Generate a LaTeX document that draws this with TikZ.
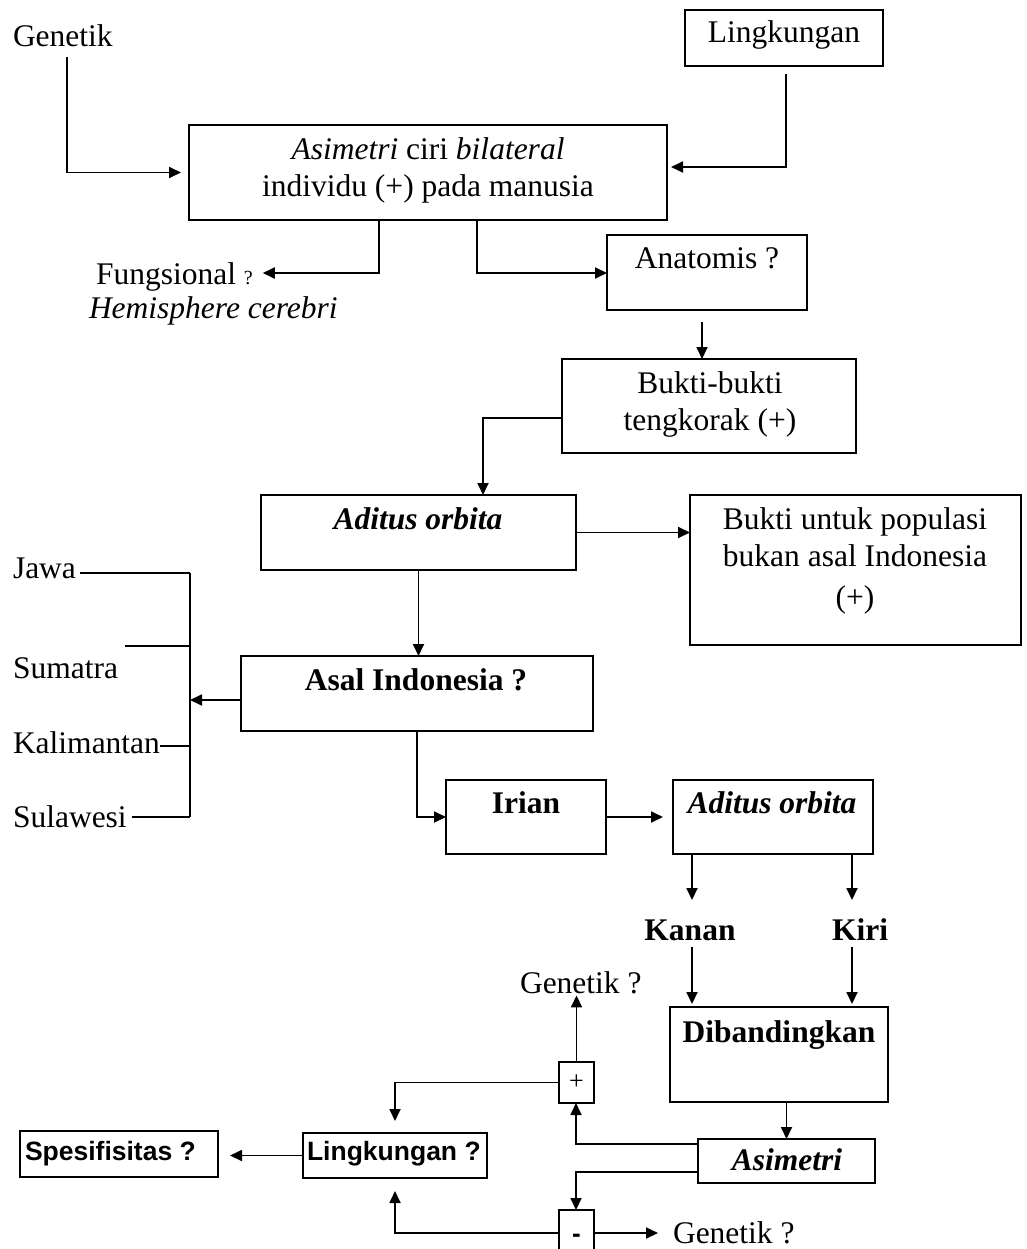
\documentclass[tikz,border=0pt]{standalone}
\usepackage{fontspec}
\setmainfont{Liberation Serif}
\newfontfamily\sansfont{Liberation Sans}
\usetikzlibrary{arrows.meta,calc}
\begin{document}
\begin{tikzpicture}[x=1pt,y=-1pt,
  every node/.style={font=\fontsize{31.5}{36}\selectfont, inner sep=0pt, outer sep=0pt},
  box/.style={draw, line width=1.7pt, anchor=north west},
  lbl/.style={anchor=base},
  lblw/.style={anchor=base west},
  ln/.style={line width=1.8pt},
  arr/.style={ln, -{Triangle[length=12pt,width=11pt]}},
  sansb/.style={font=\sansfont\bfseries\fontsize{26.5}{30}\selectfont},
]
\useasboundingbox (0,0) rectangle (1027,1249);
\clip (0,0) rectangle (1027,1249);

% boxes
\node[box, minimum width=478pt, minimum height=95pt] (main) at (189,125) {};
\node[box, minimum width=198pt, minimum height=56pt] (ling) at (685,10) {};
\node[box, minimum width=200pt, minimum height=75pt] (anat) at (607,235) {};
\node[box, minimum width=294pt, minimum height=94pt] (bukti) at (562,359) {};
\node[box, minimum width=315pt, minimum height=75pt] (adit) at (261,495) {};
\node[box, minimum width=331pt, minimum height=150pt] (bu) at (690,495) {};
\node[box, minimum width=352pt, minimum height=75pt] (asal) at (241,656) {};
\node[box, minimum width=160pt, minimum height=74pt] (irian) at (446,780) {};
\node[box, minimum width=200pt, minimum height=74pt] (adit2) at (673,780) {};
\node[box, minimum width=218pt, minimum height=95pt] (dib) at (670,1007) {};
\node[box, minimum width=177pt, minimum height=44pt] (asim) at (698,1139) {};
\node[box, minimum width=35pt, minimum height=41pt] (plus) at (559,1062) {};
\node[box, minimum width=35pt, minimum height=46pt] (minus) at (559,1210) {};
\node[box, minimum width=184pt, minimum height=45pt] (lingq) at (303,1133) {};
\node[box, minimum width=198pt, minimum height=46pt] (spes) at (20,1131) {};

% texts
\node[lblw] (tgen) at (13,47) {Genetik};
\node[lbl] (tling) at (784,43) {Lingkungan};
\node[lbl] (tm1) at (428,160) {\textit{Asimetri} ciri \textit{bilateral}};
\node[lbl] (tm2) at (428,197) {individu (+) pada manusia};
\node[lblw] (tfung) at (96,284) {Fungsional {\fontsize{20}{24}\selectfont ?}};
\node[lblw] (themi) at (89,318) {\textit{Hemisphere cerebri}};
\node[lbl] (tanat) at (707,268) {Anatomis ?};
\node[lbl] (tb1) at (710,393) {Bukti-bukti};
\node[lbl] (tb2) at (710,430) {tengkorak (+)};
\node[lbl] (tad) at (418,529) {\textbf{\textit{Aditus orbita}}};
\node[lbl] (tbu1) at (855,529) {Bukti untuk populasi};
\node[lbl] (tbu2) at (855,566) {bukan asal Indonesia};
\node[lbl] (tbu3) at (855,607) {(+)};
\node[lbl] (tasal) at (416,690) {\textbf{Asal Indonesia ?}};
\node[lblw] (tjawa) at (13,578) {Jawa};
\node[lblw] (tsum) at (13,678) {Sumatra};
\node[lblw] (tkal) at (13,753) {Kalimantan};
\node[lblw] (tsul) at (13,827) {Sulawesi};
\node[lbl] (tirian) at (526,813) {\textbf{Irian}};
\node[lbl] (tad2) at (772,813) {\textbf{\textit{Aditus orbita}}};
\node[lbl] (tkanan) at (690,940) {\textbf{Kanan}};
\node[lbl] (tkiri) at (860,940) {\textbf{Kiri}};
\node[lbl] (tdib) at (779,1042) {\textbf{Dibandingkan}};
\node[lbl] (tasim) at (787,1170) {\textbf{\textit{Asimetri}}};
\node[font=\fontsize{26}{30}\selectfont] (tplus) at (plus.center) {+};
\node[font=\sansfont\bfseries\fontsize{26}{30}\selectfont] (tminus) at ($(minus.center)+(0,5)$) {-};
\node[lblw] (tgen2) at (520,993) {Genetik ?};
\node[lblw] (tgen3) at (673,1243) {Genetik ?};
\node[lblw, sansb] (tspes) at (25,1160) {Spesifisitas ?};
\node[lblw, sansb] (tlingq) at (307,1160) {Lingkungan ?};

% connectors
\coordinate (g1) at (67,57);
\draw[arr, shorten >=8pt] (g1) |- (main.west);

\coordinate (l1) at (786,74);
\coordinate (l2) at (786,167);
\draw[arr, shorten >=4pt] (l1) -- (l2) -- (l2 -| main.east);

\coordinate (f1) at (379,273);
\draw[arr] (main.south -| f1) -- (f1) -- ([xshift=10pt]tfung.east |- f1);

\coordinate (a1) at (477,273);
\draw[arr] (main.south -| a1) -- (a1) -- (a1 -| anat.west);

\coordinate (n1) at (702,322);
\draw[arr] (n1) -- (n1 |- bukti.north);

\coordinate (b1) at (483,418);
\draw[arr] (b1 -| bukti.west) -- (b1) -- (b1 |- adit.north);

\draw[arr] (adit.east) -- (adit.east -| bu.west);
\draw[arr] (adit.south) -- (adit.south |- asal.north);

% bracket
\coordinate (k1) at (190,573);
\coordinate (k2) at (190,817);
\coordinate (k3) at (190,746);
\coordinate (k4) at (190,700);
\coordinate (s1) at (125,646);
\draw[ln] (k1) -- (k2);
\draw[ln] ([xshift=4pt]tjawa.east |- k1) -- (k1);
\draw[ln] (s1) -- (s1 -| k1);
\draw[ln] (tkal.east |- k3) -- (k3);
\draw[ln] ([xshift=5pt]tsul.east |- k2) -- (k2);
\draw[arr] (asal.west |- k4) -- (k4);

\draw[arr] (asal.south) |- (irian.west);
\draw[arr, shorten >=10pt] (irian.east) -- (irian.east -| adit2.west);

\coordinate (c1) at (692,900);
\coordinate (c2) at (852,900);
\coordinate (c3) at (692,947);
\coordinate (c4) at (852,947);
\draw[arr] (c1 |- adit2.south) -- (c1);
\draw[arr] (c2 |- adit2.south) -- (c2);
\draw[arr, shorten >=3pt] (c3) -- (c3 |- dib.north);
\draw[arr, shorten >=3pt] (c4) -- (c4 |- dib.north);

\draw[arr] (dib.south -| asim.north) -- (asim.north);

\coordinate (p1) at (576,1144);
\coordinate (p2) at (576,1172);
\draw[arr] (p1 -| asim.west) -- (p1) -- (p1 |- plus.south);
\draw[arr, shorten >=2pt] (plus.north) -- (plus.north |- tgen2.south);
\draw[arr, shorten >=12pt] (plus.west) -| (lingq.north);
\draw[arr] (p2 -| asim.west) -- (p2) -- (p2 |- minus.north);
\draw[arr, shorten >=13pt] (minus.west) -| (lingq.south);
\draw[arr, shorten >=15pt] (minus.east) -- (minus.east -| tgen3.west);
\draw[arr, shorten >=12pt] (lingq.west) -- (lingq.west -| spes.east);
\end{tikzpicture}
\end{document}
